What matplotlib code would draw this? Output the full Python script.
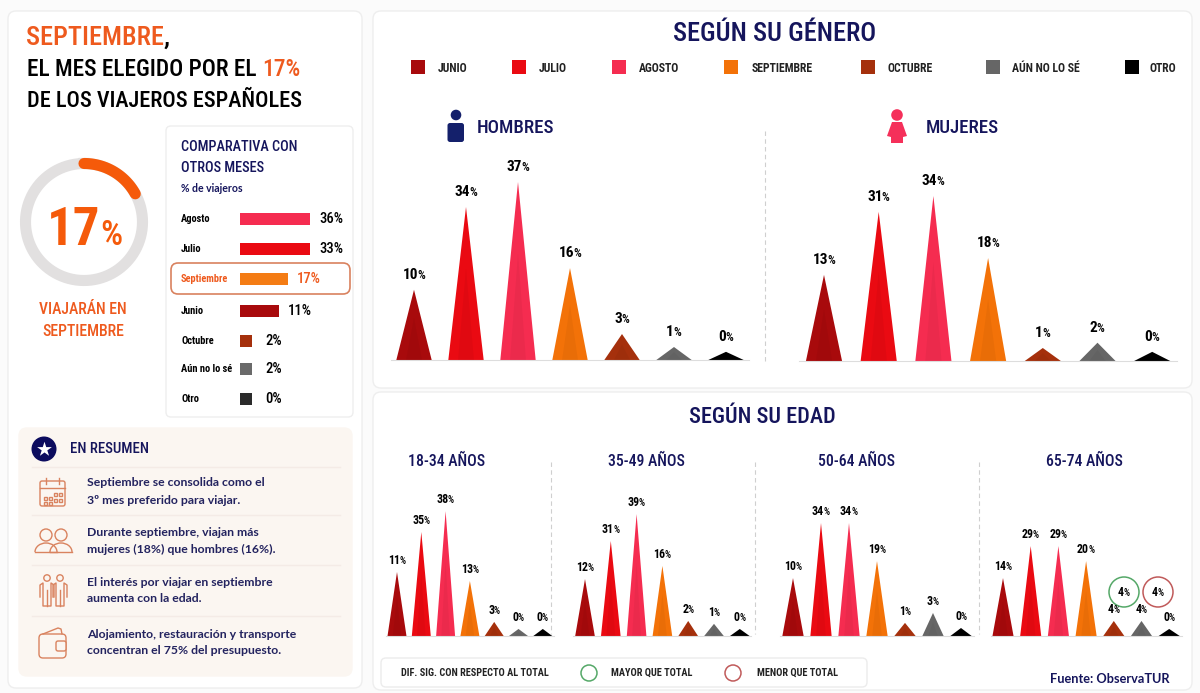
import numpy as np
import matplotlib
matplotlib.use("Agg")
import matplotlib.pyplot as plt
from matplotlib import font_manager as fm
from matplotlib.patches import FancyBboxPatch, Circle, Rectangle, Polygon, Arc

# ---- data -------------------------------------------------------------
meses = ["JUNIO", "JULIO", "AGOSTO", "SEPTIEMBRE", "OCTUBRE", "AÚN NO LO SÉ", "OTRO"]

# printed labels
hombres = [10, 34, 37, 16, 3, 1, 0]
mujeres = [13, 31, 34, 18, 1, 2, 0]
edad_18_34 = [11, 35, 38, 13, 3, 0, 0]
edad_35_49 = [12, 31, 39, 16, 2, 1, 0]
edad_50_64 = [10, 34, 34, 19, 1, 3, 0]
edad_65_74 = [14, 29, 29, 20, 4, 4, 0]

# spike heights (the source is not drawn to scale)
hombres_alto = [14.6, 31.8, 37, 19.1, 5.4, 2.7, 1.7]
mujeres_alto = [17.9, 31.0, 34.3, 21.4, 2.7, 3.8, 1.9]
edad_18_34_alto = [20, 32.5, 39, 17.2, 4.4, 2.2, 2.2]
edad_35_49_alto = [17.8, 29.7, 38.1, 21.9, 4.7, 3.8, 2.2]
edad_50_64_alto = [18.1, 35.3, 35.3, 23.4, 4.1, 7.2, 2.5]
edad_65_74_alto = [18.1, 28.1, 28.1, 23.4, 4.7, 4.7, 2.2]

comp_meses = ["Agosto", "Julio", "Septiembre", "Junio", "Octubre", "Aún no lo sé", "Otro"]
comp_valores = [36, 33, 17, 11, 2, 2, 0]
comp_largo = [36, 36, 24.5, 20, 6.6, 6.6, 6.6]

donut_valor = 17

resumen = [
    ("Septiembre se consolida como el", "3º mes preferido para viajar."),
    ("Durante septiembre, viajan más", "mujeres (18%) que hombres (16%)."),
    ("El interés por viajar en septiembre", "aumenta con la edad."),
    ("Alojamiento, restauración y transporte", "concentran el 75% del presupuesto."),
]

# ---- style ------------------------------------------------------------
COL = ["#a80a0c", "#ea0a12", "#f52c50", "#f37208", "#a5300c", "#666666", "#000000"]
COMP_COL = ["#f52c50", "#ea0a12", "#f47c14", "#a80a0c", "#a5300c", "#6a6a6a", "#2b2b2b"]
NAVY = "#15155c"
ORANGE = "#ee5a1e"
SOFT = "#d9835f"
PANEL = "#fbf6f1"

names = {f.name for f in fm.fontManager.ttflist}
NARROW = next((n for n in ["Liberation Sans Narrow", "Roboto Condensed", "Open Sans Condensed", "Liberation Sans"] if n in names), "DejaVu Sans")
BODY = "Lato" if "Lato" in names else "DejaVu Sans"

W, H = 1200, 693
fig = plt.figure(figsize=(W / 100, H / 100), dpi=100, facecolor="#fbfbfb")


def overlay(z):
    a = fig.add_axes([0, 0, 1, 1], zorder=z)
    a.set_xlim(0, W)
    a.set_ylim(H, 0)
    a.axis("off")
    a.patch.set_alpha(0)
    return a


bg = overlay(0)
top = overlay(5)
rend = fig.canvas.get_renderer()


def box(a, x0, y0, x1, y1, fc="white", ec="#eeeeee", lw=1, r=8, z=1):
    a.add_patch(FancyBboxPatch((x0 + r, y0 + r), x1 - x0 - 2 * r, y1 - y0 - 2 * r,
                               boxstyle=f"round,pad={r},rounding_size={r}", fc=fc, ec=ec, lw=lw, zorder=z))


def T(x, y, s, size, color="black", ha="left", va="center", font=None, weight="medium", a=None):
    return (a or top).text(x, y, s, fontsize=size, color=color, ha=ha, va=va,
                           family=font or NARROW, weight=weight)


def width(s, size, font=None, weight="medium"):
    t = top.text(0, 0, s, fontsize=size, family=font or NARROW, weight=weight)
    w = t.get_window_extent(rend).width
    t.remove()
    return w


def runs(x, y, parts, size):
    for s, c in parts:
        T(x, y, s, size, c, va="baseline")
        x += width(s, size)


def pct(x, y, v, size, small=None, color="black"):
    """number + smaller % sign centred on x, baseline y (pixel coordinates)."""
    small = small or size * 0.8
    n, p = width(str(v), size, weight="bold"), width("%", small)
    T(x + (n - p) / 2, y, str(v), size, color, ha="right", va="baseline", weight="bold")
    T(x + (n - p) / 2 - 0.8, y, "%", small, color, ha="left", va="baseline")


# ---- panels -----------------------------------------------------------
box(bg, 8, 11, 362, 688)
box(bg, 373, 11, 1192, 388)
box(bg, 373, 392, 1192, 690)
box(bg, 166, 126, 353, 417, r=5)
box(bg, 19, 428, 352, 676, fc=PANEL, ec=PANEL, r=8)

# ---- headline ---------------------------------------------------------
T(26, 45, "SEPTIEMBRE", 19, ORANGE, va="baseline")
T(26 + width("SEPTIEMBRE", 19), 45, ",", 19, "black", va="baseline")
runs(27, 76, [("EL MES ELEGIDO POR EL ", "black"), ("17%", ORANGE)], 16.8)
T(27, 107, "DE LOS VIAJEROS ESPAÑOLES", 16, "black", va="baseline")

# ---- donut ------------------------------------------------------------
cx, cy, rad = 84, 222, 58.5
th = np.linspace(0, 2 * np.pi, 300)
top.plot(cx + rad * np.sin(th), cy - rad * np.cos(th), color="#e2e0e0", lw=8, zorder=1)
th = np.linspace(0, 2 * np.pi * donut_valor / 100, 80)
top.plot(cx + rad * np.sin(th), cy - rad * np.cos(th), color="#f55a0a", lw=8, zorder=2,
         solid_capstyle="round")
T(100, 245, str(donut_valor), 38, "#f55a0a", ha="right", va="baseline", weight="bold")
T(100, 245, "%", 25, "#f55a0a", va="baseline")
T(83, 310, "VIAJARÁN EN", 11.3, ORANGE, ha="center")
T(83, 331, "SEPTIEMBRE", 11.3, ORANGE, ha="center")

# ---- comparativa ------------------------------------------------------
T(181, 147, "COMPARATIVA CON", 10.3, NAVY)
T(181, 168, "OTROS MESES", 10.3, NAVY)
T(181, 189, "% de viajeros", 7.6, NAVY, font=BODY, weight="bold")
box(top, 171, 263, 350, 294, fc="none", ec="#d9825f", lw=1.2, r=7, z=1)

comp_y = [219, 249, 279, 311, 341, 369, 399]
cax = fig.add_axes([239.5 / W, 1 - 417 / H, 100 / W, 291 / H], zorder=3)
cax.set_xlim(0, 100 / 1.96)
cax.set_ylim(417, 126)
cax.axis("off")
cax.barh(comp_y, comp_largo, height=12, color=COMP_COL)
for m, v, l, y in zip(comp_meses, comp_valores, comp_largo, comp_y):
    c = ORANGE if m == "Septiembre" else "black"
    T(181, y, m, 7.5, c, weight="bold")
    T(239.5 + l * 1.96 + 21, y, f"{v}%", 10.5, c, ha="center")

# ---- resumen ----------------------------------------------------------
top.add_patch(Circle((44, 449), 12.5, fc="#0c0c5e", ec="none"))
top.scatter([44], [449], marker="*", s=125, c="white", zorder=6, linewidths=0)
T(70, 449, "EN RESUMEN", 10.6, NAVY)
for y in [467, 515, 565, 616]:
    top.plot([32, 340], [y, y], color="#f4ebe6", lw=1)
for (a1, a2), y in zip(resumen, [483, 532, 582, 634]):
    T(87, y, a1, 8.8, "#23235f", font=BODY, weight="bold")
    T(87, y + 17, a2, 8.8, "#23235f", font=BODY, weight="bold")

ic = dict(fc="none", ec=SOFT, lw=1)
# calendar
box(top, 40, 481, 65, 506, fc="none", ec=SOFT, lw=1, r=2, z=6)
top.plot([40, 65], [488, 488], color=SOFT, lw=1)
for x in [46, 59]:
    top.plot([x, x], [478, 484], color=SOFT, lw=1)
for x, y in [(45, 498), (50, 498), (55, 494), (60, 494), (45, 503), (50, 503), (55, 500), (60, 500)]:
    top.add_patch(Rectangle((x - 1.5, y - 1.5), 3, 3, **ic))
# two people
for x in [46, 61]:
    top.add_patch(Circle((x, 535), 6, **ic))
    top.add_patch(Arc((x, 552), 22, 18, theta1=180, theta2=360, **ic))
    top.plot([x - 11, x + 11], [552, 552], color=SOFT, lw=1)
# two standing figures
for x in [47, 60]:
    top.add_patch(Circle((x, 578), 3.2, **ic))
    top.plot([x - 7, x - 7, x - 4, x - 4, x + 4, x + 4, x + 7, x + 7],
             [597, 585, 583, 606, 606, 583, 585, 597], color=SOFT, lw=1)
    top.plot([x, x], [590, 606], color=SOFT, lw=1)
# wallet
box(top, 39, 634, 66, 658, fc="none", ec=SOFT, lw=1, r=4, z=6)
top.plot([43, 58, 61, 62], [634, 628, 629, 634], color=SOFT, lw=1)
box(top, 56, 641, 66, 651, fc=PANEL, ec=SOFT, lw=1, r=2, z=6)
top.add_patch(Circle((60, 646), 1.3, **ic))

# ---- gender block -----------------------------------------------------
T(775, 34, "SEGÚN SU GÉNERO", 19, NAVY, ha="center")
leg_sq = [411, 512, 612, 724, 861, 986, 1125]
leg_tx = [438, 539, 639, 752, 888, 1012, 1150]
for m, c, sx, tx in zip(meses, COL, leg_sq, leg_tx):
    top.add_patch(Rectangle((sx, 60), 14, 14, fc=c, ec="none"))
    T(tx, 68, m, 8.5, "#222222", weight="bold")

# man and woman icons
top.add_patch(Circle((456, 115), 5.3, fc="#14206b", ec="none"))
box(top, 447.5, 123, 464, 142, fc="#14206b", ec="none", lw=0, r=2.5, z=6)
T(477, 128, "HOMBRES", 13.6, NAVY)
WOM = "#f5305a"
top.add_patch(Circle((897, 115), 5.8, fc=WOM, ec="none"))
top.add_patch(Polygon([(892, 122), (902, 122), (907, 136), (903, 137), (903, 143), (891, 143), (891, 137), (887, 136)],
                      fc=WOM, ec="none"))
T(926, 128, "MUJERES", 13.6, NAVY)

for x, y0, y1 in [(765, 131, 362), (551, 462, 634), (755, 462, 634), (979, 462, 634)]:
    top.plot([x, x], [y0, y1], color="#cfcfcf", lw=0.8, ls=(0, (4, 3)))


def spikes(first, step, base, unit, hw, labels, heights, size, offs):
    """one spike chart: 7 evenly spaced categories, heights through the axes' own scale."""
    px_h = 200
    ax = fig.add_axes([(first - step * 0.5) / W, 1 - base / H, step * 7 / W, px_h / H], zorder=3)
    ax.set_xlim(-0.5, 6.5)
    ax.set_ylim(0, px_h / unit)
    ax.axis("off")
    ax.patch.set_alpha(0)
    ax.plot([-0.45, 6.45], [0, 0], color="#dddddd", lw=0.8, clip_on=False)
    for i, (h, c) in enumerate(zip(heights, COL)):
        ax.fill([i - hw, i, i + hw], [0, h, 0], color=c, lw=0)
        ax.fill([i - hw * 0.45, i, i + hw * 0.45], [0, h * 0.6, 0], color="black", alpha=0.04, lw=0)
    for i, (v, h) in enumerate(zip(labels, heights)):
        px, py = ax.transData.transform((i, h))
        pct(px, H - py - offs, v, size)
    return ax


spikes(414, 52, 360, 178 / 37, 0.34, hombres, hombres_alto, 11, 11)
spikes(824, 54.7, 361, 178 / 37, 0.33, mujeres, mujeres_alto, 11, 11)

# ---- age block --------------------------------------------------------
T(762, 417, "SEGÚN SU EDAD", 16, NAVY, ha="center")
for x, s in zip([447, 646, 857, 1084], ["18-34 AÑOS", "35-49 AÑOS", "50-64 AÑOS", "65-74 AÑOS"]):
    T(x, 461, s, 11.3, NAVY, ha="center")

AGE_UNIT = 3.2
spikes(397, 24.3, 636, AGE_UNIT, 0.39, edad_18_34, edad_18_34_alto, 8.6, 8)
spikes(585, 25.8, 636, AGE_UNIT, 0.38, edad_35_49, edad_35_49_alto, 8.6, 8)
spikes(793, 28, 636, AGE_UNIT, 0.38, edad_50_64, edad_50_64_alto, 8.6, 8)
spikes(1003, 27.7, 636, AGE_UNIT, 0.38, edad_65_74, edad_65_74_alto, 8.6, 8)

# significance circles
top.add_patch(Circle((1124, 592), 15, fc="white", ec="#55a868", lw=1.1))
pct(1124, 596, 4, 8.6)
top.add_patch(Circle((1158, 592), 15, fc="white", ec="#c05a5a", lw=1.1))
pct(1158, 596, 4, 8.6)

# ---- footer -----------------------------------------------------------
box(bg, 381, 658, 867, 687, ec="#ececec", r=5, z=2)
T(401, 673, "DIF. SIG. CON RESPECTO AL TOTAL", 7.4, "#222222", weight="bold")
top.add_patch(Circle((589, 673), 8, fc="none", ec="#55a868", lw=1.1))
T(611, 673, "MAYOR QUE TOTAL", 7.4, "#222222", weight="bold")
top.add_patch(Circle((733, 673), 8, fc="none", ec="#c05a5a", lw=1.1))
T(757, 673, "MENOR QUE TOTAL", 7.4, "#222222", weight="bold")
T(1050, 679, "Fuente: ObservaTUR", 9.2, NAVY, font=BODY, weight="bold")

fig.savefig("out.png", dpi=100, facecolor=fig.get_facecolor())
